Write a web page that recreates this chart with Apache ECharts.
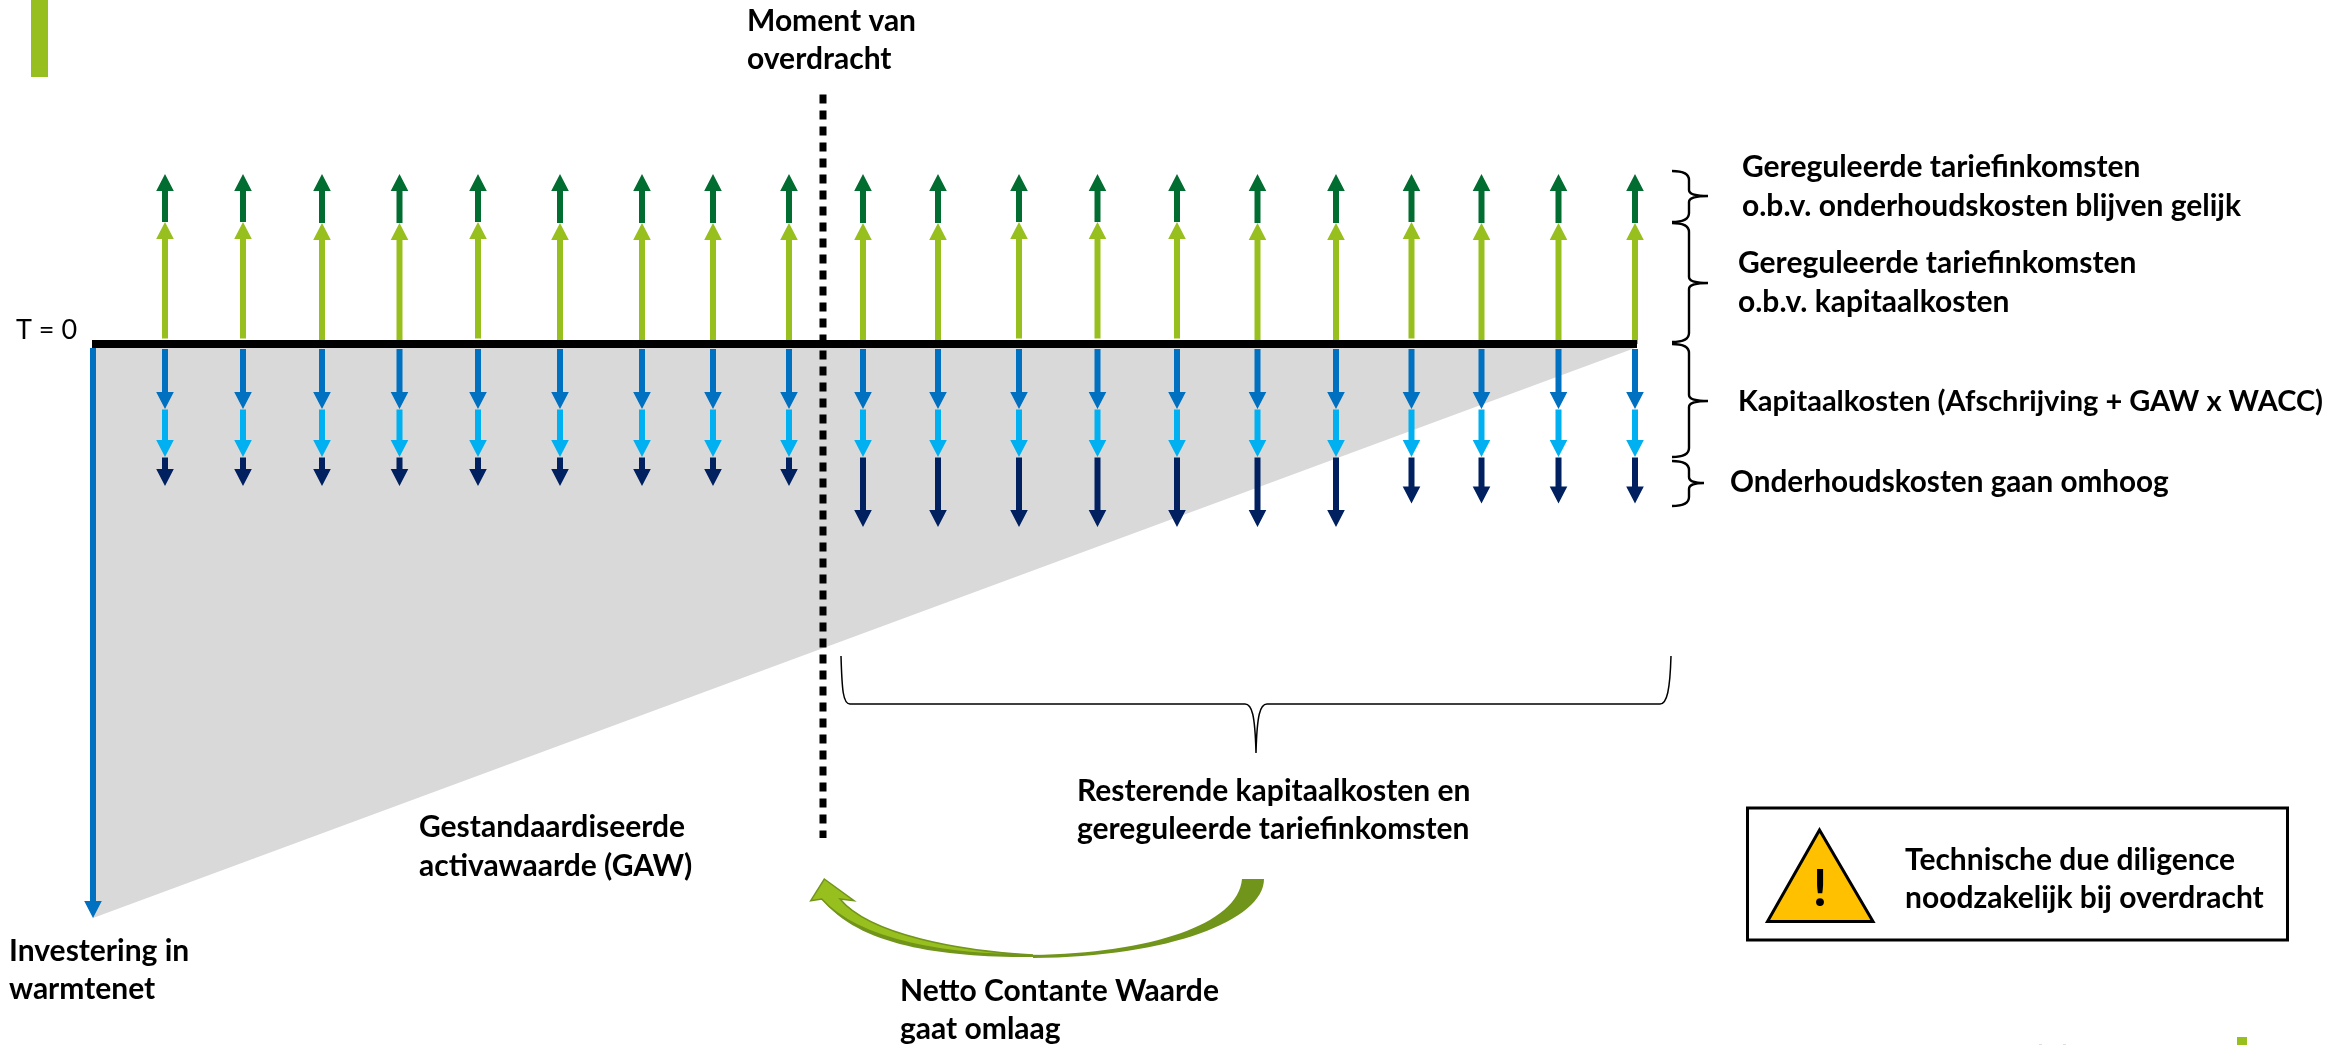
<!DOCTYPE html>
<html><head><meta charset="utf-8">
<style>html,body{margin:0;padding:0;background:#fff;overflow:hidden}#c{width:2351px;height:1045px}</style>
<script src="https://cdn.jsdelivr.net/npm/echarts@6/dist/echarts.min.js"></script>
</head><body><div id="c"></div>
<script>
// time offset of each cash-flow arrow from T = 0
const arrowTimes = [72,150,229,306.5,385,467,549,620,696,770,845,926,1004.5,1084,1164.5,1243,1318.5,1388.5,1465.5,1542];
// revenue side (above the T = 0 line)
const capitalRevenueStart = [5.4,5.4,0,0,5.4,0,0,0,0,0,0,5.4,5.4,5.4,0,0,5.4,0,0,0];
const capitalRevenueEnd   = [122,122,121,121,122,121,121,121,121,121,121,122,122,122,121,121,122,121,121,121];
const maintenanceRevenueEnd = [170,170,170,170,170,170,170,170,170,170,170,170,170,170,170,170,170,170,170,170];
// cost side (below the T = 0 line)
const depreciationCostStart = -5;
const depreciationCostEnd = [-65,-65,-65,-65,-65,-65,-65,-65,-65,-65,-65,-65,-65,-65,-65,-65,-65,-65,-65,-65];
const waccCostEnd = [-113,-113,-113,-113,-113,-113,-113,-113,-113,-113,-113,-113,-113,-113,-113,-113,-113,-113,-113,-113];
const maintenanceCostEnd = [-142,-142,-142,-142,-142,-142,-142,-142,-142,-183,-183,-183,-183,-183,-183,-183,-159.5,-159.5,-159.5,-159.5];
// asset value (GAW) and investment
const gawOutline = [[0,-4],[1542,-4],[0,-574]];
const investment = [0,-4,-574];
const timeLine = [[-1,0],[1544,0]];
const transferLine = [[730,249.5],[730,-494]];
// brace spans on the right, as amounts [from, to]
const braceSpans = [[173,122],[121,2],[0,-113],[-117,-162]];
const braceMiddles = [148,61,-57,-139];
// texts
const textTransfer = ['Moment van','overdracht'];
const textOrigin = 'T = 0';
const textRevenueMaintenance = ['Gereguleerde tariefinkomsten','o.b.v. onderhoudskosten blijven gelijk'];
const textRevenueCapital = ['Gereguleerde tariefinkomsten','o.b.v. kapitaalkosten'];
const textCapitalCost = ['Kapitaalkosten (Afschrijving + GAW x WACC)'];
const textMaintenanceCost = ['Onderhoudskosten gaan omhoog'];
const textRemaining = ['Resterende kapitaalkosten en','gereguleerde tariefinkomsten'];
const textGaw = ['Gestandaardiseerde','activawaarde (GAW)'];
const textInvestment = ['Investering in','warmtenet'];
const textNpv = ['Netto Contante Waarde','gaat omlaag'];
const textDiligence = ['Technische due diligence','noodzakelijk bij overdracht'];

const FONT = 'Lato, Carlito, sans-serif';
const FS = 30;
const chart = echarts.init(document.getElementById('c'), null, {renderer:'canvas'});

function arrowItem(color, params, api){
  const p0 = api.coord([api.value(0), api.value(1)]);
  const p1 = api.coord([api.value(0), api.value(2)]);
  const sgn = p1[1] < p0[1] ? -1 : 1;
  const hl = 17, hw = 8.8, sw = 3, x = p0[0], t = p1[1], b = t - sgn*hl;
  return {type:'polygon', shape:{points:[[x-sw,p0[1]],[x+sw,p0[1]],[x+sw,b],[x+hw,b],[x,t],[x-hw,b],[x-sw,b]]}, style:{fill:color}};
}
function arrowSeries(name,color,data,z){
  return {type:'custom',name,coordinateSystem:'cartesian2d',z,silent:true,clip:false,
    encode:{x:0,y:[1,2]},data,renderItem:(p,a)=>arrowItem(color,p,a)};
}
const d0 = arrowTimes.map((t,i)=>[t,capitalRevenueStart[i],capitalRevenueEnd[i]]);
const d1 = arrowTimes.map((t,i)=>[t,capitalRevenueEnd[i],maintenanceRevenueEnd[i]]);
const d2 = arrowTimes.map((t,i)=>[t,depreciationCostStart,depreciationCostEnd[i]]);
const d3 = arrowTimes.map((t,i)=>[t,depreciationCostEnd[i]-0.5,waccCostEnd[i]]);
const d4 = arrowTimes.map((t,i)=>[t,waccCostEnd[i]-0.5,maintenanceCostEnd[i]]);

const pathEl = (d,style)=>({type:'path',shape:{pathData:d},style});
const series = [
  {type:'custom',name:'GAW',z:1,silent:true,data:[[0,0]],clip:false,
   renderItem:(p,a)=>({type:'polygon',shape:{points:gawOutline.map(v=>a.coord(v))},style:{fill:'#D9D9D9'}})},
  arrowSeries('Gereguleerde tariefinkomsten kapitaalkosten','#97BF1D',d0,3),
  arrowSeries('Gereguleerde tariefinkomsten onderhoudskosten','#026D30',d1,3),
  arrowSeries('Afschrijving','#0070C0',d2,3),
  arrowSeries('GAW x WACC','#00B0F0',d3,3),
  arrowSeries('Onderhoudskosten','#002060',d4,3),
  arrowSeries('Investering','#0070C0',[investment],3),
  {type:'line',name:'T',z:4,silent:true,symbol:'none',data:timeLine,clip:false,lineStyle:{color:'#000',width:8,cap:'butt'}},
  {type:'line',name:'Overdracht',z:5,silent:true,symbol:'none',data:transferLine,clip:false,lineStyle:{color:'#000',width:7,type:[9,7],cap:'butt'}},
  {type:'custom',name:'Braces',z:5,silent:true,clip:false,data:braceSpans.map((s,i)=>[s[0],s[1],braceMiddles[i]]),
   encode:{y:[0,1,2]},
   renderItem:(p,a)=>{
     const i=p.dataIndex, top=a.coord([0,a.value(0)])[1], bot=a.coord([0,a.value(1)])[1], mid=a.coord([0,a.value(2)])[1];
     const L=a.coord([1579,0])[0], S=a.coord([1596,0])[0], T=a.coord([i===3?1611:1615,0])[0];
     const d=`M${L} ${top}Q${S} ${top} ${S} ${top+9}L${S} ${mid-6}Q${S} ${mid} ${T} ${mid}Q${S} ${mid} ${S} ${mid+6}L${S} ${bot-9}Q${S} ${bot} ${L} ${bot}`;
     return pathEl(d,{fill:'none',stroke:'#000',lineWidth:2.4});
   }},
  {type:'custom',name:'Bottom brace and NCW arrow',z:5,silent:true,clip:false,data:[[0,0]],
   renderItem:()=>({type:'group',children:[
     pathEl('M841 656C842 690 843 704 850 704L1245 704C1252 704 1255 715 1256 753C1257 715 1260 704 1267 704L1660 704C1667 704 1670 690 1671 656',{fill:'none',stroke:'#000',lineWidth:1.5}),
     pathEl('M1242 879C1238 925 1150 953 1033 955L1033 958C1170 957 1264 920 1264 879Z',{fill:'#71941B'}),
     pathEl('M1040 957C950 958 860 948 822 899L840 899C870 935 960 952 1040 955Z',{fill:'#71941B'}),
     pathEl('M824.3 879L854 900.7L840 899C870 935 960 951 1033 955C950 955 860 942 821.7 899L810.7 900.7Z',{fill:'#97BF1D',stroke:'#71941B',lineWidth:1.5})
   ]})},
];

// annotation lines: [x, centre y]
function lines(arr, x, ys, fs){
  return arr.map((t,i)=>({type:'text',z:20,x,y:ys[i],style:{text:t,fill:'#000',font:`bold ${fs||FS}px ${FONT}`,textVerticalAlign:'middle',textAlign:'left'}}));
}
const g = [];
g.push({type:'rect',shape:{x:31,y:0,width:17,height:77},style:{fill:'#97BF1D'}});
g.push({type:'rect',shape:{x:2237,y:1037,width:10,height:8},style:{fill:'#97BF1D'}});
g.push({type:'rect',shape:{x:2039,y:1044,width:3,height:1},style:{fill:'#ddd'}});
g.push({type:'rect',shape:{x:2063,y:1044,width:3,height:1},style:{fill:'#ddd'}});
g.push({type:'rect',shape:{x:1747.5,y:808,width:540,height:132},style:{fill:'#fff',stroke:'#000',lineWidth:3}});
g.push({type:'polygon',shape:{points:[[1819.5,830],[1767.5,921.5],[1873,921.5]]},style:{fill:'#FFC000',stroke:'#000',lineWidth:3}});
g.push({type:'text',z:20,x:1820,y:889,style:{text:'!',fill:'#000',font:`bold 52px ${FONT}`,textAlign:'center',textVerticalAlign:'middle'}});
g.push(...lines(textTransfer,747,[21,59]));
g.push({type:'text',z:20,x:16,y:330,style:{text:textOrigin,fill:'#000',font:`27px ${FONT}`,textVerticalAlign:'middle'}});
g.push(...lines(textRevenueMaintenance,1742,[167,206]));
g.push(...lines(textRevenueCapital,1738,[263,302]));
g.push(...lines(textCapitalCost,1738,[402],29));
g.push(...lines(textMaintenanceCost,1730,[482],29.7));
g.push(...lines(textRemaining,1077,[791,829]));
g.push(...lines(textGaw,419,[827,866]));
g.push(...lines(textInvestment,9,[951,989]));
g.push(...lines(textNpv,900,[991,1029]));
g.push(...lines(textDiligence,1905,[860,898]));

chart.setOption({
  animation:false,
  backgroundColor:'#fff',
  grid:{left:0,right:0,top:0,bottom:0,containLabel:false},
  xAxis:{type:'value',min:-93,max:2258,show:false},
  yAxis:{type:'value',min:-701,max:344,show:false},
  tooltip:{show:false},
  series,
  graphic:g
});
</script></body></html>
